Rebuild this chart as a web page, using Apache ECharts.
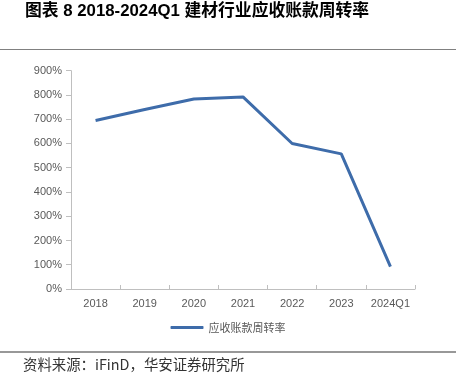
<!DOCTYPE html>
<html><head><meta charset="utf-8">
<script src="https://cdn.jsdelivr.net/npm/echarts@6/dist/echarts.min.js"></script>
<style>html,body{margin:0;padding:0;background:#fff}#c{width:456px;height:384px}</style>
</head><body><div id="c"></div>
<script>
var categories = ['2018','2019','2020','2021','2022','2023','2024Q1'];
var turnoverValues = [695, 740, 783, 792, 600, 557, 92];
var yTicks = [0, 100, 200, 300, 400, 500, 600, 700, 800, 900];
var seriesName = '应收账款周转率';
var titleText = '图表 8 2018-2024Q1 建材行业应收账款周转率';
var sourceText = '资料来源：iFinD，华安证券研究所';

var chart = echarts.init(document.getElementById('c'), null, {renderer: 'canvas'});
chart.setOption({
  animation: false,
  backgroundColor: '#fff',
  grid: {left: 71, right: 41, top: 70.7, bottom: 95, containLabel: false},
  xAxis: {
    type: 'category', data: categories, boundaryGap: true,
    axisLine: {lineStyle: {color: '#bfbfbf', width: 1}},
    axisTick: {show: true, length: 4, inside: true, interval: 0, lineStyle: {color: '#bfbfbf'}},
    axisLabel: {color: '#595959', fontSize: 11, interval: 0, fontFamily: 'Liberation Sans, Arial', margin: 9}
  },
  yAxis: {
    type: 'value', min: yTicks[0], max: yTicks[yTicks.length - 1], interval: 100,
    axisLine: {show: true, lineStyle: {color: '#bfbfbf', width: 1}},
    axisTick: {show: true, length: 5, lineStyle: {color: '#bfbfbf'}},
    splitLine: {show: false},
    axisLabel: {color: '#595959', fontSize: 11, fontFamily: 'Liberation Sans, Arial', margin: 9,
      formatter: function (v) { return v + '%'; }}
  },
  legend: {
    data: [seriesName], bottom: 46, left: 'center',
    itemWidth: 33, itemHeight: 3, itemGap: 4,
    icon: 'roundRect',
    textStyle: {color: '#595959', fontSize: 11, fontFamily: 'Noto Sans CJK SC'}
  },
  series: [{
    name: seriesName, type: 'line', data: turnoverValues,
    showSymbol: false, symbol: 'none',
    lineStyle: {color: '#3E6CAA', width: 3},
    itemStyle: {color: '#3E6CAA'}
  }],
  graphic: [
    {type: 'text', left: 25, top: 3, style: {text: titleText, fill: '#000', font: 'bold 16.8px "Liberation Sans", "Noto Sans CJK SC"'}},
    {type: 'line', shape: {x1: 0, y1: 49.5, x2: 456, y2: 49.5}, style: {stroke: '#808080', lineWidth: 1}},
    {type: 'line', shape: {x1: 0, y1: 352, x2: 456, y2: 352}, style: {stroke: '#333', lineWidth: 1.2}},
    {type: 'text', left: 23, top: 357, style: {text: sourceText, fill: '#333', font: '14.4px "Noto Sans CJK SC", "Liberation Sans"'}}
  ]
});
</script></body></html>
